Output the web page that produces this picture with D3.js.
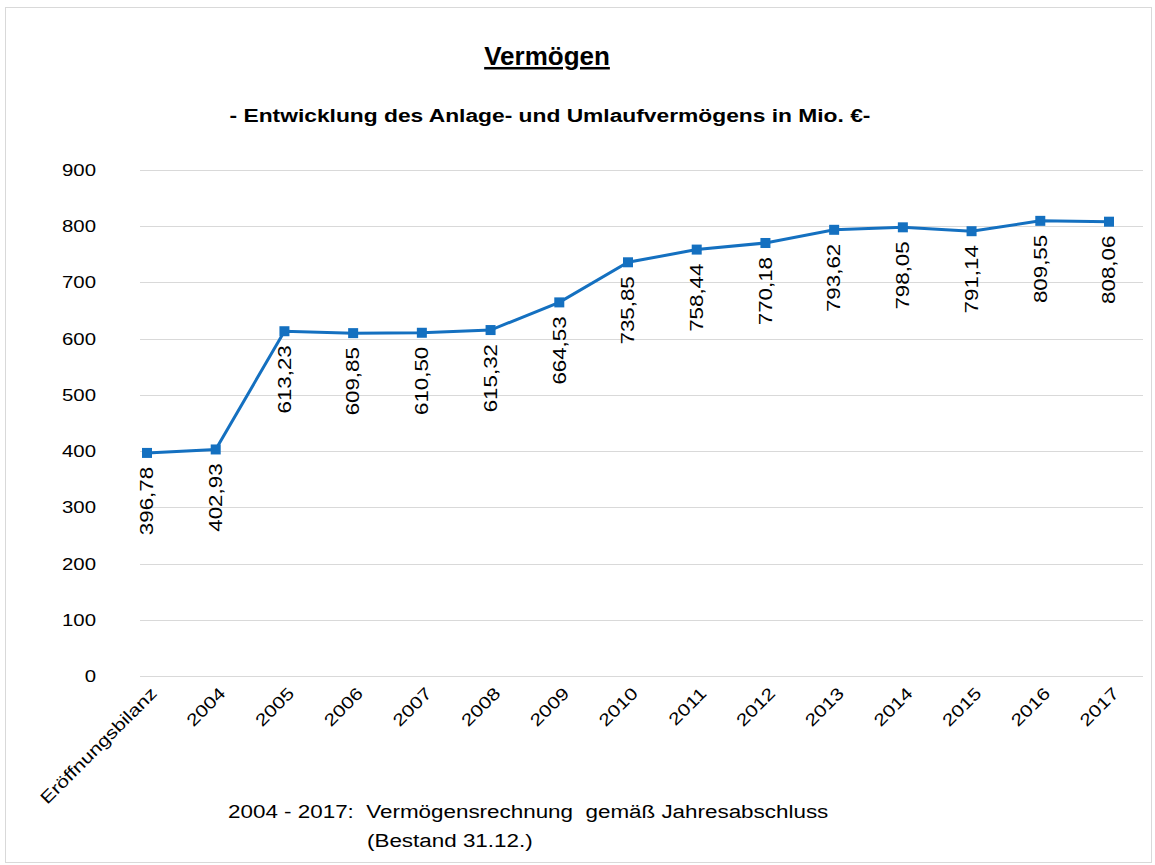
<!DOCTYPE html>
<html>
<head>
<meta charset="utf-8">
<script src="https://cdn.jsdelivr.net/npm/d3@7"></script>
<style>
  body { margin: 0; background: #fff; }
  svg { display: block; font-family: Arial, "Liberation Sans", sans-serif; }
</style>
</head>
<body>
<svg id="chart" width="1155" height="865"></svg>
<script>
// Chart data
const categories = ["Eröffnungsbilanz", "2004", "2005", "2006", "2007", "2008", "2009",
  "2010", "2011", "2012", "2013", "2014", "2015", "2016", "2017"];
const values = [396.78, 402.93, 613.23, 609.85, 610.50, 615.32, 664.53,
  735.85, 758.44, 770.18, 793.62, 798.05, 791.14, 809.55, 808.06];
const yTicks = [0, 100, 200, 300, 400, 500, 600, 700, 800, 900];

const svg = d3.select("#chart");
const blue = "#1470c0";
const fmt = (v) => v.toFixed(2).replace(".", ",");
const wide = 1.2; // the original text is rendered a bit wider than Arial

// outer frame
svg.append("rect")
  .attr("x", 5.5).attr("y", 7.5)
  .attr("width", 1146).attr("height", 855)
  .attr("fill", "#fff")
  .attr("stroke", "#d9d9d9");

// scales
const x = d3.scalePoint().domain(categories).range([147, 1109]);
const y = d3.scaleLinear().domain([0, 900]).range([676, 170]);

// gridlines
svg.append("g")
  .selectAll("line")
  .data(yTicks)
  .join("line")
  .attr("x1", 140).attr("x2", 1143)
  .attr("y1", (d) => Math.round(y(d)) + 0.5)
  .attr("y2", (d) => Math.round(y(d)) + 0.5)
  .attr("stroke", "#d9d9d9");

// y axis labels
const yAxis = d3.axisLeft(y).tickValues(yTicks).tickSize(0).tickPadding(0);
svg.append("g")
  .attr("transform", "translate(96,0)")
  .call(yAxis)
  .call((g) => g.select(".domain").remove())
  .call((g) => g.selectAll("text")
    .attr("font-size", 17)
    .attr("font-family", "Arial, 'Liberation Sans', sans-serif")
    .attr("fill", "#000")
    .attr("transform", `scale(${wide},1)`));

// x axis labels
const xAxis = d3.axisBottom(x).tickSize(0).tickPadding(0);
svg.append("g")
  .attr("transform", "translate(0,686)")
  .call(xAxis)
  .call((g) => g.select(".domain").remove())
  .call((g) => g.selectAll("text")
    .attr("font-size", 17)
    .attr("font-family", "Arial, 'Liberation Sans', sans-serif")
    .attr("fill", "#000")
    .attr("text-anchor", "end")
    .attr("dy", "0.7em")
    .attr("transform", `translate(2,0) rotate(-45) scale(${wide + 0.04},1)`));

// line
const line = d3.line()
  .x((d, i) => x(categories[i]))
  .y((d) => y(d));

svg.append("path")
  .datum(values)
  .attr("fill", "none")
  .attr("stroke", blue)
  .attr("stroke-width", 3)
  .attr("d", line);

// markers
svg.append("g")
  .selectAll("rect")
  .data(values)
  .join("rect")
  .attr("x", (d, i) => x(categories[i]) - 5)
  .attr("y", (d) => y(d) - 5)
  .attr("width", 10)
  .attr("height", 10)
  .attr("fill", blue);

// data labels (rotated)
svg.append("g")
  .selectAll("text")
  .data(values)
  .join("text")
  .attr("transform", (d, i) =>
    `translate(${x(categories[i])},${y(d) + 14}) rotate(-90) scale(${wide + 0.04},1)`)
  .attr("text-anchor", "end")
  .attr("dy", "0.35em")
  .attr("font-size", 18)
  .attr("fill", "#000")
  .text(fmt);

// titles
svg.append("text")
  .attr("transform", "translate(547,65) scale(1.04,1)")
  .attr("text-anchor", "middle")
  .attr("font-size", 25)
  .attr("font-weight", "bold")
  .attr("text-decoration", "underline")
  .text("Vermögen");

svg.append("text")
  .attr("transform", `translate(550,122) scale(${wide},1)`)
  .attr("text-anchor", "middle")
  .attr("font-size", 19)
  .attr("font-weight", "bold")
  .text("- Entwicklung des Anlage- und Umlaufvermögens in Mio. €-");

// footnote
svg.append("text")
  .attr("transform", `translate(228,818) scale(${wide - 0.02},1)`)
  .attr("font-size", 19)
  .attr("xml:space", "preserve")
  .text("2004 - 2017:  Vermögensrechnung  gemäß Jahresabschluss");

svg.append("text")
  .attr("transform", `translate(367,847) scale(${wide - 0.02},1)`)
  .attr("font-size", 19)
  .text("(Bestand 31.12.)");
</script>
</body>
</html>
